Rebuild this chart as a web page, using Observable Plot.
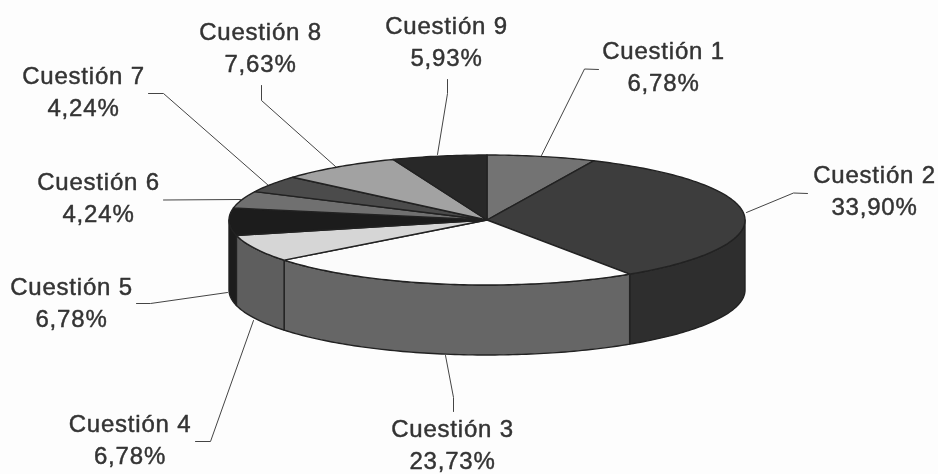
<!DOCTYPE html>
<html>
<head>
<meta charset="utf-8">
<script src="https://cdn.jsdelivr.net/npm/d3@7"></script>
<script src="https://cdn.jsdelivr.net/npm/@observablehq/plot@0.6"></script>
<style>
html, body { margin: 0; padding: 0; background: #fdfdfd; }
svg { display: block; filter: blur(0.45px); }
</style>
</head>
<body>
<div id="chart"></div>
<script>
// Data
const categories = ["Cuestión 1","Cuestión 2","Cuestión 3","Cuestión 4","Cuestión 5","Cuestión 6","Cuestión 7","Cuestión 8","Cuestión 9"];
const shares = [6.78, 33.90, 23.73, 6.78, 6.78, 4.24, 4.24, 7.63, 5.93];

// Styles
const topColors  = ["#737373","#3d3d3d","#fbfbfb","#d6d6d6","#1c1c1c","#707070","#4b4b4b","#a2a2a2","#282828"];
const wallColors = ["#555555","#2e2e2e","#666666","#5e5e5e","#1c1c1c","#555555","#444444","#777777","#222222"];

// Layout (pixel-like units of the x/y scales)
const pie = {cx: 487, cy: 220, rx: 258, ry: 65, depth: 70};
const labelCenters = [663, 874, 452, 129.5, 71, 98, 83, 260, 446];
const labelBaselines = [[55.5,88.5],[179.5,211.5],[434,466],[428.5,460.5],[291.5,323.5],[186.5,218.5],[80.5,113.5],[36.5,68.5],[30.5,63.5]];
const leaderPaths = [
  [[541,155],[584,68.5],[598,69]],
  [[746,212],[793,192.5],[807,193]],
  [[445,355],[453,397],[453,411]],
  [[253,320],[210,441],[195,441]],
  [[227,292],[150,303],[136,303]],
  [[240,199],[163,199.5]],
  [[268,185],[163,93],[148,93]],
  [[335,166],[261,100],[261,85]],
  [[437,154],[447,93],[447,79]]
];
const fontSize = 24;

// Geometry derived from the shares
const total = d3.sum(shares);
const cum = d3.cumsum(shares);
const slices = categories.map((name, i) => ({
  name, i,
  a0: (i ? cum[i-1] : 0) / total * 2 * Math.PI,
  a1: cum[i] / total * 2 * Math.PI
}));
const arcPoints = (a0, a1) => {
  const n = Math.max(2, Math.ceil((a1 - a0) / (Math.PI / 180)));
  return d3.range(n + 1).map(k => {
    const a = a0 + (a1 - a0) * k / n;
    return {x: pie.cx + pie.rx * Math.sin(a), y: pie.cy - pie.ry * Math.cos(a)};
  });
};

// Outer walls: only the front half of the disc (90deg to 270deg) is visible
const wallMarks = slices.flatMap(s => {
  const a0 = Math.max(s.a0, Math.PI / 2), a1 = Math.min(s.a1, 3 * Math.PI / 2);
  if (a1 <= a0) return [];
  return [Plot.area(arcPoints(a0, a1), {
    x1: "x", y1: "y", x2: "x", y2: d => d.y + pie.depth,
    fill: wallColors[s.i], stroke: "#222", strokeWidth: 1.4, curve: "linear"
  })];
});

// Top faces
const topMarks = slices.map(s => Plot.area(arcPoints(s.a0, s.a1), {
  x1: () => pie.cx, y1: () => pie.cy, x2: "x", y2: "y",
  fill: topColors[s.i], stroke: "#222", strokeWidth: 1.4, curve: "linear"
}));

// Leaders
const leaderMarks = leaderPaths.map(p => Plot.line(p, {
  x: d => d[0], y: d => d[1], stroke: "#444", strokeWidth: 1, curve: "linear"
}));

// Labels
const labels = categories.map((name, i) => ({
  text: name + "\n" + shares[i].toFixed(2).replace(".", ",") + "%",
  x: labelCenters[i],
  y: (labelBaselines[i][0] + labelBaselines[i][1]) / 2 - 0.32 * fontSize
}));

const chart = Plot.plot({
  width: 938, height: 474,
  marginTop: 0, marginRight: 0, marginBottom: 0, marginLeft: 0,
  x: {axis: null, domain: [0, 938], range: [0, 938]},
  y: {axis: null, domain: [0, 474], range: [0, 474]},
  style: {background: "#fdfdfd", letterSpacing: "0.8px"},
  marks: [
    ...leaderMarks,
    ...wallMarks,
    ...topMarks,
    Plot.text(labels, {
      x: "x", y: "y", text: "text", lineHeight: 32 / fontSize,
      fontSize, fontFamily: "Liberation Sans", fill: "#333",
      stroke: "#333", strokeWidth: 0.45, textAnchor: "middle"
    })
  ]
});
document.getElementById("chart").append(chart);
</script>
</body>
</html>
